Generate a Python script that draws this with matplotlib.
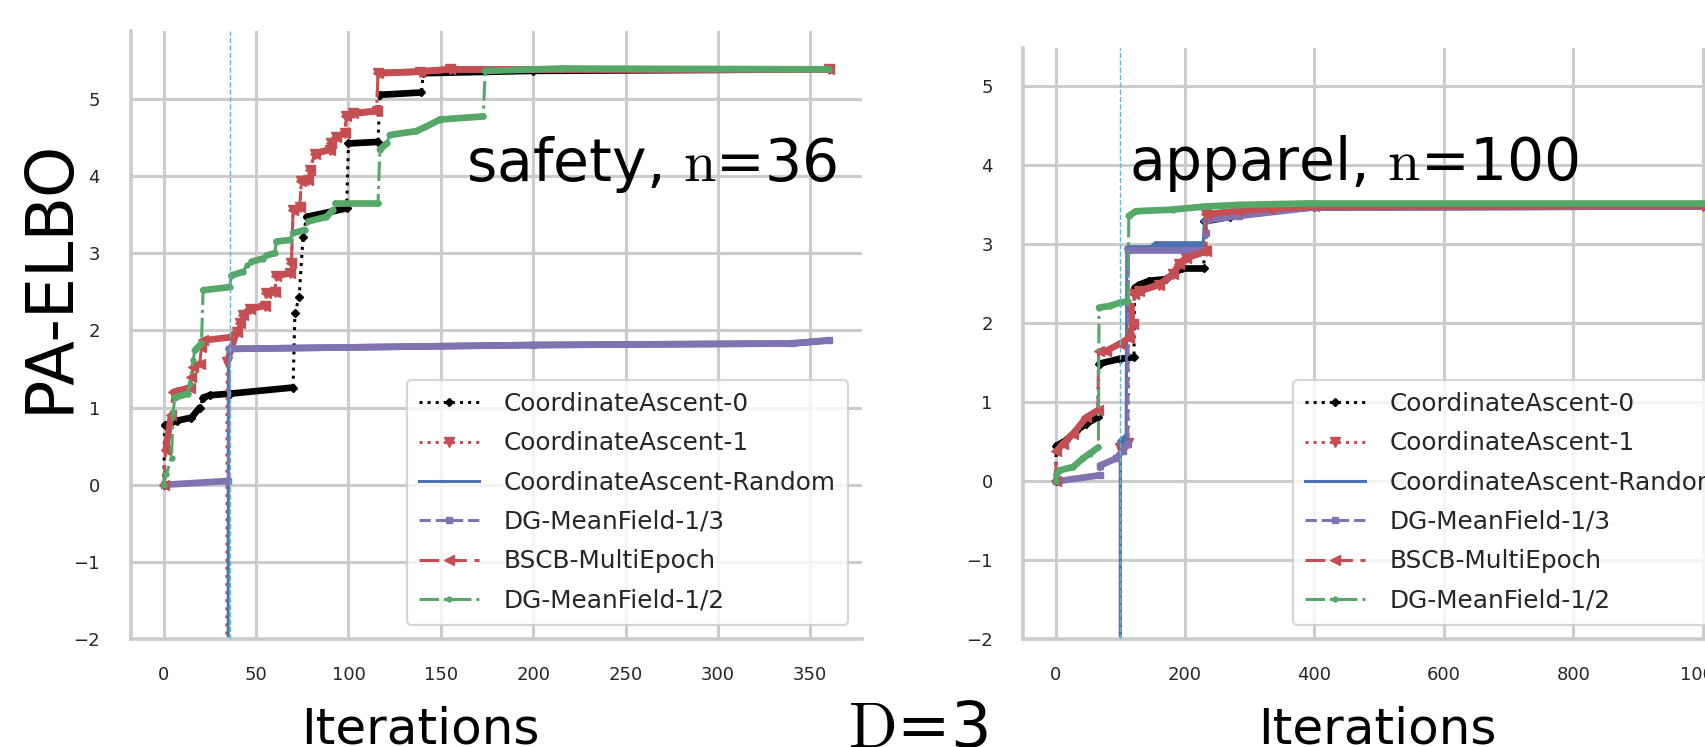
import numpy as np
import matplotlib
matplotlib.use("Agg")
import matplotlib.pyplot as plt
from matplotlib.collections import LineCollection

W, H = 1705, 747

# ---- safety, n=36 (left panel) ----
n_safety = 36
ca0_x_s = [0, 0.5, 7, 15, 19.5, 21.3, 25, 35.7, 70, 71, 73.3, 75.4, 77.3, 99, 100, 116, 117, 139.5, 140.5, 200, 360]
ca0_y_s = [0, 0.77, 0.83, 0.87, 1.0, 1.13, 1.16, 1.18, 1.26, 2.22, 2.43, 3.21, 3.47, 3.58, 4.42, 4.44, 5.05, 5.08, 5.33, 5.36, 5.38]
bscb_x_s = [0, 1, 4, 5, 14, 15, 15.9, 19.5, 20.4, 21.3, 35.7, 39.4, 41.2, 43, 46.6, 54.7, 55.6, 60.1, 61,
            68.2, 69.1, 70, 73.6, 74.5, 78.2, 79, 81.8, 89.9, 90.8, 93.5, 98, 98.9, 102.5, 115.2, 116,
            138.6, 155, 360]
bscb_y_s = [0, 0.45, 0.9, 1.2, 1.26, 1.39, 1.52, 1.57, 1.78, 1.87, 1.91, 1.98, 2.09, 2.2, 2.28, 2.32, 2.48, 2.5, 2.71,
            2.74, 2.87, 3.56, 3.6, 3.93, 3.95, 4.08, 4.29, 4.34, 4.42, 4.51, 4.55, 4.77, 4.81, 4.84, 5.33,
            5.35, 5.38, 5.38]
ca1_head_x_s = [0, 33, 34.3]
ca1_head_y_s = [-30, -30, 1.59]
rand_x_s = [0, 34, 35, 200, 340, 360]
rand_y_s = [-30, -30, 1.76, 1.81, 1.83, 1.87]
dg13_x_s = [0, 35, 35.6, 200, 340, 360]
dg13_y_s = [0, 0.05, 1.76, 1.81, 1.83, 1.87]
dg12_x_s = [0, 1.4, 4.2, 5, 6, 13.2, 14, 15.9, 16.8, 20.4, 21.3, 35.7, 36.6, 43, 44.8, 47.5, 53.8, 55.6, 60.1, 61,
            68.2, 70, 76.4, 78.2, 88.1, 91.7, 92.6, 116, 117, 120.6, 122.4, 136.8, 142.2, 149.5, 173, 174, 215, 360]
dg12_y_s = [0, 0.14, 0.35, 0.92, 1.13, 1.18, 1.31, 1.61, 1.74, 1.83, 2.52, 2.56, 2.71, 2.76, 2.84, 2.89, 2.93, 2.97, 3.0, 3.15,
            3.17, 3.26, 3.30, 3.41, 3.47, 3.56, 3.65, 3.65, 4.34, 4.42, 4.53, 4.58, 4.64, 4.73, 4.77, 5.36, 5.39, 5.38]

# ---- apparel, n=100 (right panel) ----
n_apparel = 100
ca0_x_a = [0, 1, 16.4, 31.9, 47.3, 65.3, 66.5, 67.8, 98.7, 121, 122, 129.5, 145, 170.6, 181, 196, 229, 230, 270, 322, 399, 1000]
ca0_y_a = [0, 0.45, 0.52, 0.64, 0.73, 0.81, 1.48, 1.49, 1.55, 1.57, 2.45, 2.49, 2.54, 2.56, 2.62, 2.70, 2.70, 3.29, 3.35, 3.43, 3.47, 3.48]
bscb_x_a = [0, 1, 11.3, 26.7, 47.3, 65.3, 66.3, 78, 98.7, 114, 119, 121.8, 129.5, 160.4, 181, 191, 201.5, 232, 233, 280, 330, 400, 1000]
bscb_y_a = [0, 0.38, 0.475, 0.60, 0.81, 0.90, 1.65, 1.65, 1.74, 1.82, 1.99, 2.37, 2.41, 2.49, 2.62, 2.75, 2.83, 2.91, 3.38, 3.42, 3.45, 3.48, 3.49]
ca1_head_x_a = [0, 99, 100, 112, 113]
ca1_head_y_a = [-30, -30, 0.42, 0.48, 2.2]
rand_x_a = [0, 99, 100, 109, 110, 150, 155, 228, 230, 300, 400, 1000]
rand_y_a = [-30, -30, 0.5, 0.56, 2.96, 2.96, 3.0, 3.0, 3.3, 3.40, 3.47, 3.48]
dg13_x_a = [0, 1, 67.8, 68.5, 93.5, 103.8, 111.5, 112.5, 232, 232.8, 234, 283.7, 400, 1000]
dg13_y_a = [0, 0.0, 0.076, 0.2, 0.29, 0.39, 0.475, 2.935, 2.935, 3.15, 3.31, 3.36, 3.47, 3.48]
dg12_x_a = [0, 1, 6.2, 26.7, 42, 52.4, 66, 67, 83.3, 98.7, 112, 113, 124.4, 181, 232, 283.7, 400, 1000]
dg12_y_a = [0, 0.076, 0.14, 0.18, 0.29, 0.35, 0.43, 2.2, 2.22, 2.26, 2.28, 3.36, 3.42, 3.44, 3.48, 3.50, 3.52, 3.52]

labels = ["CoordinateAscent-0", "CoordinateAscent-1", "CoordinateAscent-Random",
          "DG-MeanField-1/3", "BSCB-MultiEpoch", "DG-MeanField-1/2"]

plt.rcParams['font.family'] = ['DejaVu Sans']
plt.rcParams['mathtext.fontset'] = 'cm'


def join(head_x, head_y, tail_x, tail_y):
    # CA-1 follows the BSCB curve once it catches up
    last = head_x[-1]
    tx = [x for x in tail_x if x > last + 5]
    ty = [y for x, y in zip(tail_x, tail_y) if x > last + 5]
    return head_x + tx, head_y + ty


def draw_series(ax, xs, ys, color, ls, marker, ms, label):
    xs = np.asarray(xs, float)
    ys = np.asarray(ys, float)
    ax.plot(xs, ys, color=color, ls=ls, lw=2.2, marker=marker, ms=ms, label=label, zorder=2)
    # dense per-iteration markers make the slow parts look like a thick band
    slow = np.nonzero(np.diff(xs) >= 3)[0]
    segs = [[(xs[i], ys[i]), (xs[i + 1], ys[i + 1])] for i in slow]
    ax.add_collection(LineCollection(segs, colors=color, linewidths=4.8,
                                     capstyle='round', zorder=2))


def style_axes(ax):
    ax.set_axisbelow(True)
    ax.grid(True, color='#cccccc', lw=2.2)
    for s in ['top', 'right']:
        ax.spines[s].set_visible(False)
    for s in ['left', 'bottom']:
        ax.spines[s].set_color('#cccccc')
        ax.spines[s].set_linewidth(2.6)
    ax.tick_params(axis='both', length=0, labelsize=13, labelcolor='#262626')
    ax.tick_params(axis='x', pad=19)
    ax.tick_params(axis='y', pad=22)
    ax.set_yticks(range(-2, 6))


def panel(ax, n, data):
    ca0, ca1, rnd, dg13, bscb, dg12 = data
    draw_series(ax, *ca0, 'k', ':', 'D', 4.5, labels[0])
    draw_series(ax, *ca1, '#C44E52', ':', 'v', 7, labels[1])
    draw_series(ax, *rnd, '#4C72B0', '-', None, 0, labels[2])
    draw_series(ax, *dg13, '#8172B2', '--', 's', 5, labels[3])
    draw_series(ax, *bscb, '#C44E52', (0, (6.5, 2.5)), '<', 7, labels[4])
    draw_series(ax, *dg12, '#55A868', '-.', 'o', 3.5, labels[5])
    ax.axvline(n, color='#64B5CD', ls='--', lw=1.0, zorder=3)
    leg = ax.legend(loc='lower right', fontsize=17.8, borderaxespad=0.58, borderpad=0.5,
                    handlelength=2.4, handletextpad=1.0, labelspacing=0.62,
                    framealpha=0.8, facecolor='white', edgecolor='#cccccc', fancybox=True)
    leg.get_frame().set_linewidth(1.6)
    for t in leg.get_texts():
        t.set_color('#262626')


def frac(x, y):
    return x / W, 1 - y / H


fig = plt.figure(figsize=(W / 100, H / 100), dpi=100)
ax1 = fig.add_axes([130.5 / W, 1 - 639.3 / H, (862 - 130.5) / W, (639.3 - 30.7) / H])
ax2 = fig.add_axes([1023.3 / W, 1 - 639.3 / H, (1748 - 1023.3) / W, (639.3 - 47.7) / H])

safety = [(ca0_x_s, ca0_y_s), join(ca1_head_x_s, ca1_head_y_s, bscb_x_s, bscb_y_s),
          (rand_x_s, rand_y_s), (dg13_x_s, dg13_y_s), (bscb_x_s, bscb_y_s), (dg12_x_s, dg12_y_s)]
apparel = [(ca0_x_a, ca0_y_a), join(ca1_head_x_a, ca1_head_y_a, bscb_x_a, bscb_y_a),
           (rand_x_a, rand_y_a), (dg13_x_a, dg13_y_a), (bscb_x_a, bscb_y_a), (dg12_x_a, dg12_y_a)]

panel(ax1, n_safety, safety)
panel(ax2, n_apparel, apparel)
style_axes(ax1)
style_axes(ax2)
ax1.set_xlim(-18, 378)
ax1.set_ylim(-2, 5.88)
ax1.set_xticks(range(0, 351, 50))
ax2.set_xlim(-50, 1070)
ax2.set_ylim(-2, 5.49)
ax2.set_xticks(range(0, 1001, 200))

fig.text(*frac(50, 276), 'PA-ELBO', rotation=90, ha='center', va='center', fontsize=47)
fig.text(*frac(420.5, 744), 'Iterations', ha='center', va='baseline', fontsize=36)
fig.text(*frac(1377, 744), 'Iterations', ha='center', va='baseline', fontsize=36)
fig.text(*frac(848, 747), r'$\mathrm{D}$=3', ha='left', va='baseline', fontsize=46)
fig.text(*frac(466, 181), r'safety, $\mathrm{n}$=36', ha='left', va='baseline', fontsize=42)
fig.text(*frac(1129, 180), r'apparel, $\mathrm{n}$=100', ha='left', va='baseline', fontsize=42)

fig.savefig('out.png', dpi=100)
